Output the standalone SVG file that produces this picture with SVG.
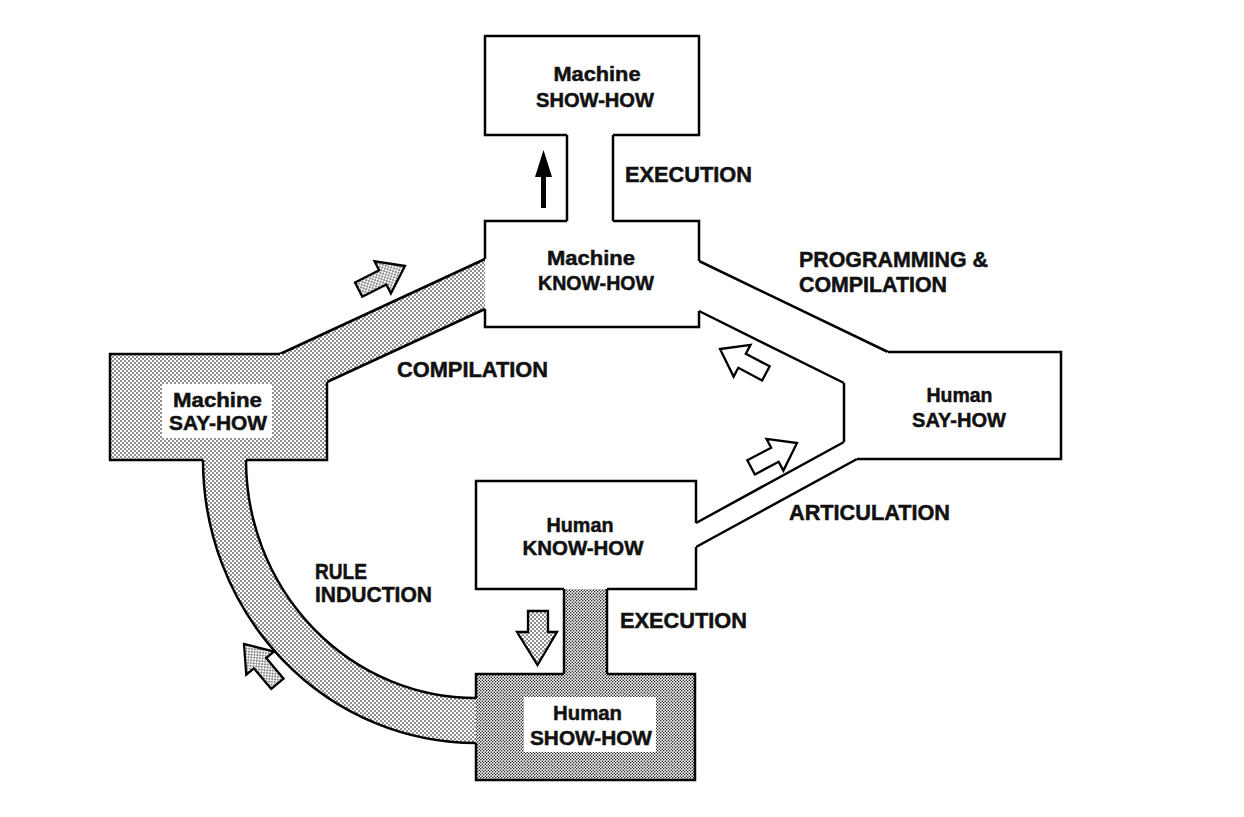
<svg xmlns="http://www.w3.org/2000/svg" width="1244" height="817" viewBox="0 0 1244 817">
<defs>
<pattern id="stip" width="4" height="4" patternUnits="userSpaceOnUse">
<rect width="4" height="4" fill="#fff"/>
<circle cx="1" cy="1" r="0.8" fill="#000"/>
<circle cx="3" cy="3" r="0.8" fill="#000"/>
</pattern>
<pattern id="stip2" width="3" height="3" patternUnits="userSpaceOnUse">
<rect width="3" height="3" fill="#fff"/>
<circle cx="0.75" cy="0.75" r="0.75" fill="#000"/>
<circle cx="2.25" cy="2.25" r="0.75" fill="#000"/>
</pattern>
<path id="arr" d="M-52,-8 L-25,-8 L-25,-18 L0,0 L-25,18 L-25,8 L-52,8 Z"/>
<style>
.ln{fill:none;stroke:#000;stroke-width:2.5;stroke-linejoin:miter}
.t{font-family:"Liberation Sans",Arial,sans-serif;font-weight:bold;fill:#111;stroke:#111;stroke-width:0.5;font-size:21px}
.lb{font-family:"Liberation Sans",Arial,sans-serif;font-weight:bold;fill:#111;stroke:#111;stroke-width:0.5;font-size:22px}
.aw{fill:#fff;stroke:#000;stroke-width:2.3;stroke-linejoin:miter}
.as{fill:url(#stip);stroke:#000;stroke-width:2.3;stroke-linejoin:miter}
</style>
</defs>
<rect width="1244" height="817" fill="#fff"/>

<g id="connectors">
<g id="exec-machine">
<line class="ln" x1="567" y1="135" x2="567" y2="221"/>
<line class="ln" x1="613" y1="135" x2="613" y2="221"/>
<path d="M541,208 V177 H535 L543.5,150 L552,177 H546 V208 Z" fill="#000"/>
</g>
<g id="compilation">
<polygon points="280,354 485,259 485,309 327,382 327,400 280,400" fill="url(#stip)"/>
<path class="ln" d="M280,354 L485,259 M327,382 L485,309"/>
<use href="#arr" class="as" transform="translate(405,266) rotate(-27)"/>
</g>
<g id="programming">
<path class="ln" d="M699,261 L888,352 M699,311 L844,383"/>
<use href="#arr" class="aw" transform="translate(720,349) rotate(208)"/>
</g>
<g id="articulation">
<path class="ln" d="M844,442 L696,523 M857,459 L696,547"/>
<use href="#arr" class="aw" transform="translate(797,443) rotate(-28)"/>
</g>
<g id="exec-human">
<rect x="564" y="589" width="43" height="85" fill="url(#stip2)"/>
<path class="ln" d="M564,589 V674 M607,589 V674"/>
<path class="as" d="M528,611 H548 V632 H557 L537.5,665 L517,632 H528 Z"/>
</g>
<g id="rule-induction">
<path d="M203,460 A273,283 0 0 0 476,743 L476,698 A230,238 0 0 1 246,460 Z" fill="url(#stip)"/>
<path class="ln" d="M203,460 A273,283 0 0 0 476,743 M476,698 A230,238 0 0 1 246,460"/>
<use href="#arr" class="as" transform="translate(244,644) rotate(230)"/>
</g>
</g>

<g id="machine-show-how">
<rect x="485" y="36" width="214" height="99" fill="#fff"/>
<path class="ln" d="M567,135 H485 V36 H699 V135 H613"/>
<text class="t" x="597" y="81" text-anchor="middle" textLength="87" lengthAdjust="spacingAndGlyphs">Machine</text>
<text class="t" x="595" y="107" text-anchor="middle" textLength="118" lengthAdjust="spacingAndGlyphs">SHOW-HOW</text>
</g>

<g id="machine-know-how">
<rect x="485" y="221" width="214" height="106" fill="#fff"/>
<path class="ln" d="M567,221 H485 V259 M485,309 V327 H699 V311 M699,261 V221 H613"/>
<text class="t" x="591" y="265" text-anchor="middle" textLength="88" lengthAdjust="spacingAndGlyphs">Machine</text>
<text class="t" x="596" y="290" text-anchor="middle" textLength="116" lengthAdjust="spacingAndGlyphs">KNOW-HOW</text>
</g>

<g id="machine-say-how">
<rect x="110" y="354" width="217" height="106" fill="url(#stip)"/>
<path class="ln" d="M280,354 H110 V460 H203 M246,460 H327 V382"/>
<rect x="162" y="384" width="110" height="54" fill="#fff"/>
<text class="t" x="217.5" y="407" text-anchor="middle" textLength="89" lengthAdjust="spacingAndGlyphs">Machine</text>
<text class="t" x="218" y="430" text-anchor="middle" textLength="98" lengthAdjust="spacingAndGlyphs">SAY-HOW</text>
</g>

<g id="human-say-how">
<polygon points="888,352 1061,352 1061,459 857,459 844,442 844,383" fill="#fff"/>
<path class="ln" d="M888,352 H1061 V459 H857 M844,383 V442"/>
<text class="t" x="959.5" y="402" text-anchor="middle" textLength="66" lengthAdjust="spacingAndGlyphs">Human</text>
<text class="t" x="959" y="427" text-anchor="middle" textLength="94" lengthAdjust="spacingAndGlyphs">SAY-HOW</text>
</g>

<g id="human-know-how">
<rect x="476" y="481" width="220" height="108" fill="#fff"/>
<path class="ln" d="M564,589 H476 V481 H696 V523 M696,547 V589 H607"/>
<text class="t" x="580" y="532" text-anchor="middle" textLength="67" lengthAdjust="spacingAndGlyphs">Human</text>
<text class="t" x="583" y="555" text-anchor="middle" textLength="121" lengthAdjust="spacingAndGlyphs">KNOW-HOW</text>
</g>

<g id="human-show-how">
<rect x="476" y="674" width="219" height="106" fill="url(#stip2)"/>
<path class="ln" d="M564,674 H476 V698 M476,743 V780 H695 V674 H607"/>
<rect x="524" y="697" width="132" height="55" fill="#fff"/>
<text class="t" x="587.5" y="720" text-anchor="middle" textLength="69" lengthAdjust="spacingAndGlyphs">Human</text>
<text class="t" x="591" y="745" text-anchor="middle" textLength="122" lengthAdjust="spacingAndGlyphs">SHOW-HOW</text>
</g>

<g id="labels">
<text class="lb" x="625" y="182" textLength="127" lengthAdjust="spacingAndGlyphs">EXECUTION</text>
<text class="lb" x="799" y="267" textLength="189" lengthAdjust="spacingAndGlyphs">PROGRAMMING &amp;</text>
<text class="lb" x="799" y="292" textLength="148" lengthAdjust="spacingAndGlyphs">COMPILATION</text>
<text class="lb" x="397" y="377" textLength="151" lengthAdjust="spacingAndGlyphs">COMPILATION</text>
<text class="lb" x="789" y="520" textLength="161" lengthAdjust="spacingAndGlyphs">ARTICULATION</text>
<text class="lb" x="315" y="579" textLength="52" lengthAdjust="spacingAndGlyphs">RULE</text>
<text class="lb" x="315" y="602" textLength="117" lengthAdjust="spacingAndGlyphs">INDUCTION</text>
<text class="lb" x="620" y="628" textLength="127" lengthAdjust="spacingAndGlyphs">EXECUTION</text>
</g>
</svg>
